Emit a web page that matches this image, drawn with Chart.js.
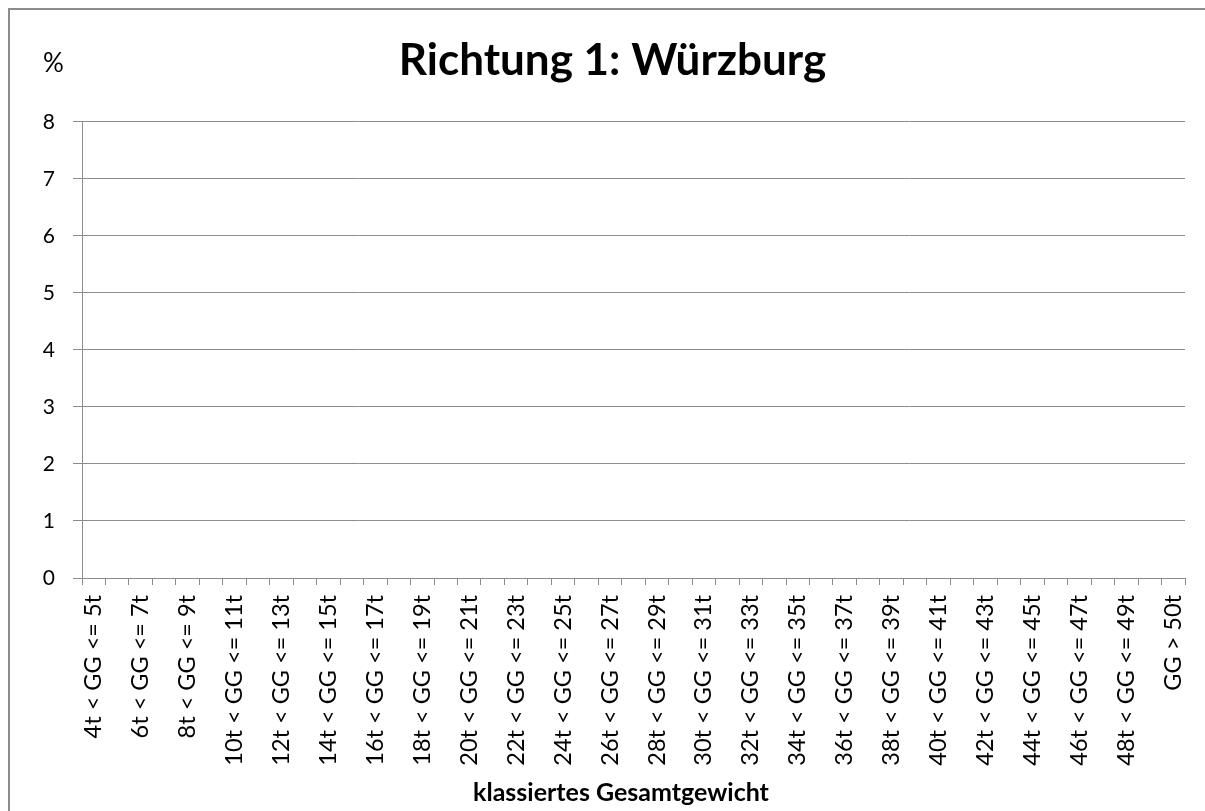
<!DOCTYPE html>
<html>
<head>
<meta charset="utf-8">
<script src="https://cdn.jsdelivr.net/npm/chart.js@4.4.1/dist/chart.umd.min.js"></script>
<style>
  body { margin: 0; background: #fff; }
  #frame {
    position: absolute; left: 8px; top: 8px;
    width: 1197px; height: 803px;
    border-top: 2px solid #8c8c8c; border-left: 2px solid #8c8c8c;
  }
  #wrap { width: 1195px; height: 801px; }
</style>
</head>
<body>
<div id="frame"><div id="wrap"><canvas id="chart"></canvas></div></div>
<script>
const categories = [
  '4t < GG <= 5t', '5t < GG <= 6t', '6t < GG <= 7t', '7t < GG <= 8t',
  '8t < GG <= 9t', '9t < GG <= 10t', '10t < GG <= 11t', '11t < GG <= 12t',
  '12t < GG <= 13t', '13t < GG <= 14t', '14t < GG <= 15t', '15t < GG <= 16t',
  '16t < GG <= 17t', '17t < GG <= 18t', '18t < GG <= 19t', '19t < GG <= 20t',
  '20t < GG <= 21t', '21t < GG <= 22t', '22t < GG <= 23t', '23t < GG <= 24t',
  '24t < GG <= 25t', '25t < GG <= 26t', '26t < GG <= 27t', '27t < GG <= 28t',
  '28t < GG <= 29t', '29t < GG <= 30t', '30t < GG <= 31t', '31t < GG <= 32t',
  '32t < GG <= 33t', '33t < GG <= 34t', '34t < GG <= 35t', '35t < GG <= 36t',
  '36t < GG <= 37t', '37t < GG <= 38t', '38t < GG <= 39t', '39t < GG <= 40t',
  '40t < GG <= 41t', '41t < GG <= 42t', '42t < GG <= 43t', '43t < GG <= 44t',
  '44t < GG <= 45t', '45t < GG <= 46t', '46t < GG <= 47t', '47t < GG <= 48t',
  '48t < GG <= 49t', '49t < GG <= 50t', 'GG > 50t'
];

// the chart in the picture is empty: every class is 0 %
const shares = [
  0, 0, 0, 0, 0, 0, 0, 0, 0, 0, 0, 0, 0, 0, 0, 0,
  0, 0, 0, 0, 0, 0, 0, 0, 0, 0, 0, 0, 0, 0, 0, 0,
  0, 0, 0, 0, 0, 0, 0, 0, 0, 0, 0, 0, 0, 0, 0
];

const yTicks = [0, 1, 2, 3, 4, 5, 6, 7, 8];

const gray = '#8c8c8c';
const font = 'Lato';

// "%" over the y axis and the x axis title (Excel puts it left of centre)
const extraLabels = {
  id: 'extraLabels',
  afterDraw(chart) {
    const c = chart.ctx;
    c.save();
    c.fillStyle = '#000';
    c.font = `26px ${font}`;
    c.textAlign = 'left';
    c.textBaseline = 'middle';
    c.fillText('%', 33, 54);
    c.font = `bold 25px ${font}`;
    c.textAlign = 'center';
    c.textBaseline = 'alphabetic';
    c.fillText('klassiertes Gesamtgewicht', 611, 791);
    c.restore();
  },
};

new Chart(document.getElementById('chart'), {
  type: 'bar',
  data: {
    labels: categories,
    datasets: [
      {
        label: 'Anteil',
        data: shares,
        backgroundColor: '#4f81bd',
      },
    ],
  },
  options: {
    responsive: true,
    maintainAspectRatio: false,
    animation: false,
    layout: { padding: { top: 0, right: 20, left: 30, bottom: 0 } },
    scales: {
      y: {
        min: 0,
        max: 8,
        afterBuildTicks: (scale) => {
          scale.ticks = yTicks.map((v) => ({ value: v }));
        },
        afterFit: (scale) => { scale.width = 42; },
        ticks: { color: '#000', padding: 18, font: { family: font, size: 21 } },
        grid: { color: gray, tickLength: 9, drawTicks: true },
        border: { color: gray },
      },
      x: {
        offset: true,
        afterFit: (scale) => {
          scale.height = 233;
          scale.paddingLeft = 0;
          scale.paddingRight = 0;
        },
        ticks: {
          autoSkip: false,
          minRotation: 90,
          maxRotation: 90,
          padding: 10,
          color: '#000',
          font: { family: font, size: 23.5 },
          callback: (v, i) => (i % 2 === 0 ? categories[i] : ''),
        },
        grid: { offset: true, drawOnChartArea: false, color: gray, tickLength: 7 },
        border: { color: gray },
      },
    },
    plugins: {
      legend: { display: false },
      tooltip: { enabled: false },
      title: {
        display: true,
        text: 'Richtung 1: Würzburg',
        color: '#000',
        font: { family: font, size: 44, weight: 'bold' },
        padding: { top: 24, bottom: 35 },
      },
    },
  },
  plugins: [extraLabels],
});
</script>
</body>
</html>
